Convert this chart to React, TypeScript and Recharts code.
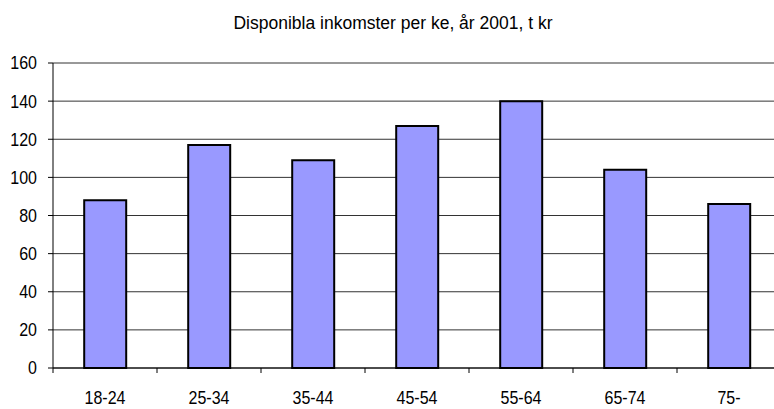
import { Bar, BarChart, CartesianGrid, XAxis, YAxis } from "recharts";

const ageGroups = ["18-24", "25-34", "35-44", "45-54", "55-64", "65-74", "75-"];
const income = [88, 117, 109, 127, 140, 104, 86];
const yTicks = [0, 20, 40, 60, 80, 100, 120, 140, 160];

const data = ageGroups.map((group, i) => ({ group, income: income[i] }));

const FONT = "'Liberation Sans', Arial, sans-serif";
// the original tick labels use a slightly condensed face
const SQUEEZE = 0.89;

/** Category label plus a tick mark on the left edge of the band, Excel style. */
function BandTick(props: any) {
  const { x, y, payload } = props;
  const half = payload?.offset ?? 52;
  return (
    <g>
      <line x1={x - half} x2={x - half} y1={y - 23} y2={y - 18} stroke="#000" strokeWidth={1} />
      <text
        transform={`translate(${x},${y}) scale(${SQUEEZE},1)`}
        dy="0.71em"
        textAnchor="middle"
        fontSize={18}
        fontFamily={FONT}
        fill="#000"
      >
        {payload.value}
      </text>
    </g>
  );
}

function ValueTick(props: any) {
  const { x, y, payload } = props;
  return (
    <text
      transform={`translate(${x},${y}) scale(${SQUEEZE},1)`}
      dy="0.355em"
      textAnchor="end"
      fontSize={18}
      fontFamily={FONT}
      fill="#000"
    >
      {payload.value}
    </text>
  );
}

export default function App() {
  return (
    <div
      style={{
        position: "absolute",
        left: 0,
        top: 0,
        width: 774,
        height: 409,
        overflow: "hidden",
        background: "#fff",
      }}
    >
      <div
        style={{
          position: "absolute",
          left: 0,
          top: 13,
          width: 786,
          textAlign: "center",
          fontFamily: FONT,
          fontSize: 17.5,
          color: "#000",
        }}
      >
        Disponibla inkomster per ke, år 2001, t kr
      </div>
      <BarChart
        width={790}
        height={409}
        data={data}
        margin={{ top: 63, right: 9, bottom: 0, left: 0 }}
        barCategoryGap="30%"
      >
        <CartesianGrid vertical={false} stroke="#333" strokeWidth={1} />
        <XAxis
          dataKey="group"
          height={41}
          axisLine={{ stroke: "#000" }}
          tickLine={false}
          tickSize={0}
          tickMargin={23}
          interval={0}
          tick={<BandTick />}
        />
        <YAxis
          width={53}
          domain={[0, 160]}
          ticks={yTicks}
          interval={0}
          axisLine={{ stroke: "#000" }}
          tickLine={{ stroke: "#000" }}
          tickSize={5}
          tickMargin={11}
          tick={<ValueTick />}
        />
        <Bar
          dataKey="income"
          fill="#9999FF"
          stroke="#000"
          strokeWidth={2}
          isAnimationActive={false}
        />
      </BarChart>
    </div>
  );
}
